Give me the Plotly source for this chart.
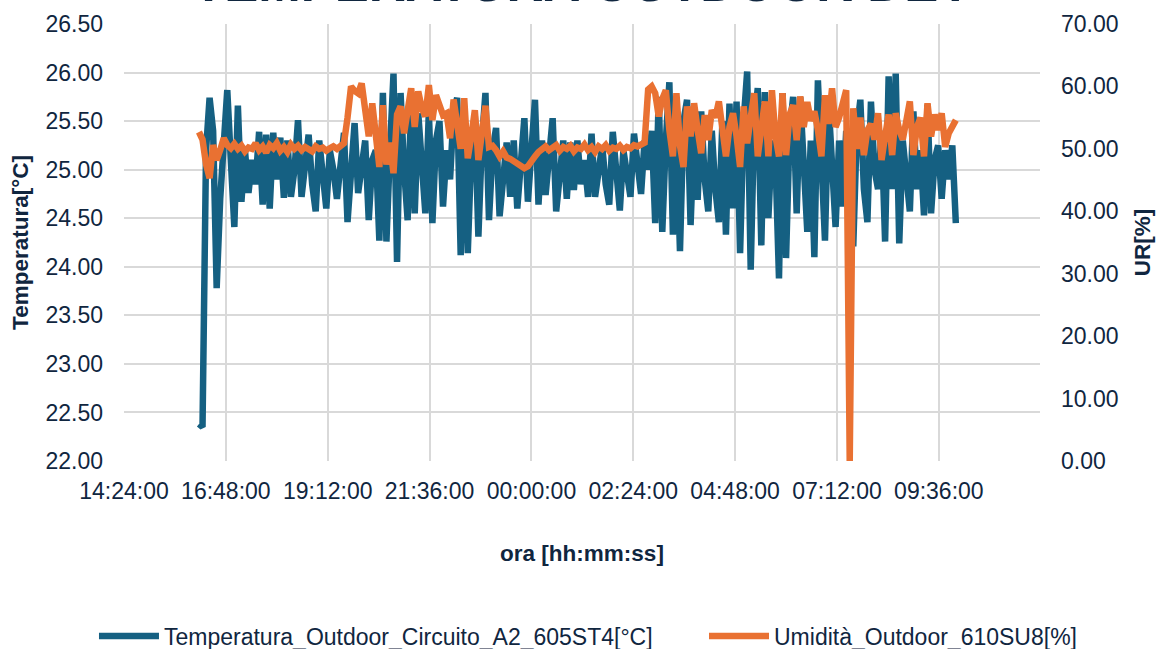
import pandas as pd
import plotly.graph_objects as go

# Colours / fonts
BLUE = "#156082"
ORANGE = "#E97132"
TEXT = "#10263f"
GRID = "#d9d9d9"
FONT = "Liberation Sans, Arial, sans-serif"

TITLE = "TEMPERATURA OUTDOOR DEY"
START = "2024-01-01 16:10"   # first sample, 5 min step

# Temperatura_Outdoor_Circuito_A2_605ST4 [°C]
temp = [
    22.38, 22.35, 25.2, 25.74, 25.4, 23.78, 24.7, 25.25, 25.82, 25.1,
    24.41, 25.66, 24.67, 25.2, 24.76, 25.1, 24.85, 25.39, 24.64, 25.36,
    24.6, 25.38, 24.9, 25.33, 24.71, 25.3, 24.72, 25.0, 25.51, 24.72,
    25.1, 25.36, 24.85, 24.57, 25.3, 24.95, 24.6, 25.2, 25.0, 24.7,
    25.1, 25.38, 24.46, 25.0, 25.48, 24.76, 25.1, 25.3, 24.48, 25.1,
    25.2, 24.27, 25.79, 24.26, 25.2, 25.99, 24.05, 25.79, 25.0, 24.48,
    25.72, 24.55, 25.58, 25.0, 24.55, 25.6, 24.45, 25.3, 25.5, 24.62,
    25.2, 24.9, 25.6, 25.74, 24.12, 25.65, 24.14, 25.2, 25.55, 24.31,
    25.3, 25.79, 24.48, 25.2, 25.43, 24.52, 25.0, 25.28, 24.72, 25.3,
    24.6, 25.1, 25.53, 24.67, 25.2, 25.72, 24.64, 25.3, 24.74, 25.1,
    25.53, 24.57, 25.0, 25.3, 24.7, 25.28, 24.79, 25.3, 24.85, 25.1,
    24.72, 25.37, 24.72, 25.0, 25.25, 24.85, 24.64, 25.39, 24.9, 24.58,
    25.2, 24.9, 24.72, 25.37, 25.0, 24.75, 25.3, 25.0, 25.4, 24.45,
    25.75, 24.36, 25.3, 25.9, 24.33, 25.4, 24.16, 25.5, 25.72, 24.43,
    25.4, 24.69, 25.6, 24.9, 24.57, 25.4, 24.8, 24.46, 25.5, 24.33,
    25.68, 24.6, 25.7, 24.14, 25.5, 26.01, 23.97, 25.5, 25.84, 24.22,
    25.8, 24.5, 25.3, 25.1, 23.88, 25.79, 24.09, 25.4, 25.75, 24.55,
    25.75, 24.9, 24.36, 25.3, 24.1, 25.92, 25.0, 24.27, 25.7, 25.0,
    24.41, 25.3, 24.62, 25.4, 25.1, 24.21, 25.4, 25.72, 24.8, 24.46,
    25.7, 25.0, 24.8, 25.4, 24.26, 25.96, 24.8, 25.99, 24.24, 25.3,
    25.0, 24.57, 25.6, 24.8, 25.2, 24.53, 25.67, 24.55, 25.1, 25.25,
    24.7, 25.2, 24.9, 25.25, 24.45,
]

# Umidità_Outdoor_610SU8 [%]
hum = [
    52.7, 51.5, 47.5, 45.3, 50.6, 48.2, 49.8, 51.7, 50.6, 50.1,
    50.8, 50.0, 50.5, 49.6, 50.2, 50.0, 50.9, 49.8, 50.4, 49.4,
    50.6, 50.1, 50.9, 49.7, 50.3, 49.5, 50.7, 50.0, 50.5, 49.8,
    50.3, 50.0, 49.6, 50.4, 50.0, 50.2, 49.7, 50.1, 50.4, 50.0,
    50.6, 50.9, 55.0, 60.0, 59.3, 58.9, 60.5, 56.0, 52.0, 57.3,
    52.5, 47.1, 57.0, 47.5, 51.0, 46.1, 55.5, 56.8, 52.5, 56.0,
    59.7, 53.5, 59.2, 56.5, 55.2, 60.2, 54.6, 58.6, 57.0, 55.4,
    55.7, 51.7, 57.9, 53.0, 50.0, 58.1, 48.5, 52.0, 56.2, 48.2,
    52.5, 56.9, 50.3, 50.5, 49.8, 48.8, 49.6, 48.6, 48.4, 48.0,
    47.9, 47.5, 46.9, 47.2, 48.2, 48.8, 49.5, 50.1, 50.4, 49.8,
    50.1, 50.6, 49.7, 50.3, 50.0, 50.5, 49.6, 50.2, 50.0, 50.7,
    49.8, 50.3, 49.5, 50.4, 50.0, 50.6, 49.7, 50.2, 50.0, 50.5,
    49.8, 50.3, 50.1, 50.6, 50.4, 50.6, 51.0, 59.5, 60.0, 58.9,
    55.2, 58.0, 59.4, 53.0, 48.8, 58.9, 50.5, 47.1, 56.8, 52.0,
    57.3, 53.0, 49.3, 55.4, 51.4, 56.2, 55.0, 57.6, 53.5, 48.8,
    53.5, 55.7, 52.0, 47.1, 56.8, 50.9, 55.0, 58.9, 48.8, 54.0,
    57.6, 48.8, 59.4, 52.0, 48.8, 58.9, 49.0, 55.5, 57.0, 51.4,
    58.4, 53.5, 57.5, 54.5, 56.0, 53.0, 48.8, 58.6, 54.0, 59.7,
    53.5, 55.0, 57.0, 59.4, 0.0, 56.5, 50.0, 55.0, 49.0, 53.0,
    54.0, 51.5, 55.7, 48.2, 52.0, 55.5, 49.0, 55.7, 53.0, 51.5,
    54.5, 57.6, 49.0, 53.5, 55.0, 48.8, 57.3, 52.0, 55.5, 53.0,
    55.7, 50.3, 52.5, 53.5, 54.6,
]

# x-axis ticks (every 2h24m)
x_ticks = [
    "2024-01-01 14:24", "2024-01-01 16:48", "2024-01-01 19:12",
    "2024-01-01 21:36", "2024-01-02 00:00", "2024-01-02 02:24",
    "2024-01-02 04:48", "2024-01-02 07:12", "2024-01-02 09:36",
]
x_range = ["2024-01-01 14:24", "2024-01-02 11:59"]

times = pd.date_range(START, periods=len(temp), freq="5min")

fig = go.Figure()
fig.add_trace(go.Scatter(
    x=times, y=temp, mode="lines",
    name="Temperatura_Outdoor_Circuito_A2_605ST4[°C]",
    line=dict(color=BLUE, width=6.5),
    legend="legend",
))
fig.add_trace(go.Scatter(
    x=times, y=hum, mode="lines", yaxis="y2",
    name="Umidità_Outdoor_610SU8[%]",
    line=dict(color=ORANGE, width=6.5),
    legend="legend2",
))

# title is cut off at the top of the image
fig.add_annotation(
    text="<b>" + TITLE + "</b>", xref="paper", yref="paper",
    x=0.5, y=1.023, xanchor="center", yanchor="bottom", showarrow=False,
    font=dict(size=51, color=TEXT, family=FONT),
)

legend_style = dict(
    orientation="h", xref="container", yref="container",
    y=0.02, yanchor="middle", xanchor="left",
    font=dict(size=23, color=TEXT), itemwidth=60,
    bgcolor="rgba(0,0,0,0)",
)

fig.update_layout(
    width=1156, height=649,
    paper_bgcolor="white", plot_bgcolor="white",
    font=dict(family=FONT, color=TEXT, size=23),
    margin=dict(l=124, r=116, t=24, b=188, autoexpand=False),
    showlegend=True,
    legend=dict(legend_style, x=0.0813),
    legend2=dict(legend_style, x=0.609),
    xaxis=dict(
        type="date", range=x_range, tickvals=x_ticks, tickformat="%H:%M:%S",
        showgrid=True, gridcolor=GRID, gridwidth=1.5, zeroline=False,
        showline=False, ticks="", ticklabelstandoff=14,
        tickfont=dict(size=23, color=TEXT),
        title=dict(text="<b>ora [hh:mm:ss]</b>", font=dict(size=22.5, color=TEXT), standoff=42),
    ),
    yaxis=dict(
        range=[22, 26.5], dtick=0.5, tickformat=".2f",
        showgrid=True, gridcolor=GRID, gridwidth=1.5, zeroline=False,
        showline=False, ticks="", ticklabelstandoff=20,
        tickfont=dict(size=23, color=TEXT),
        title=dict(text="<b>Temperatura[°C]</b>", font=dict(size=22.5, color=TEXT), standoff=10),
    ),
    yaxis2=dict(
        overlaying="y", side="right", range=[0, 70], dtick=10, tickformat=".2f",
        showgrid=False, zeroline=False, showline=False, ticks="",
        ticklabelstandoff=20, tickfont=dict(size=23, color=TEXT),
        title=dict(text="<b>UR[%]</b>", font=dict(size=22.5, color=TEXT), standoff=16),
    ),
)

# drop the default page margin so the figure sits at the window's corner
fig.write_html(
    "out.html",
    config={"displayModeBar": False},
    post_script="document.body.style.margin = '0';",
)
